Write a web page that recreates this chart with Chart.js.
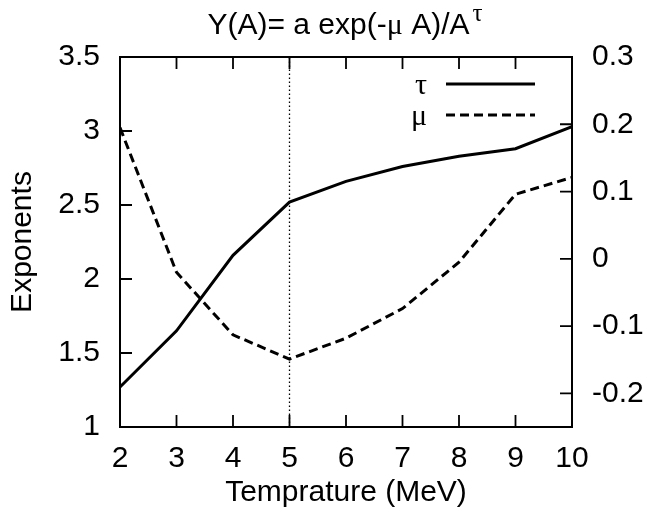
<!DOCTYPE html>
<html><head><meta charset="utf-8">
<script src="https://cdn.jsdelivr.net/npm/chart.js@4/dist/chart.umd.min.js"></script>
<style>html,body{margin:0;padding:0;background:#fff}#wrap{width:661px;height:508px}</style>
</head><body><div id="wrap"><canvas id="c" width="661" height="508"></canvas></div>
<script>
// ---- data ----
const temperatures = [2, 3, 4, 5, 6, 7, 8, 9, 10];
const tauValues = [1.27, 1.65, 2.16, 2.52, 2.66, 2.76, 2.83, 2.88, 3.03];
const muValues = [0.195, -0.02, -0.113, -0.149, -0.118, -0.074, -0.005, 0.096, 0.121];
const markerTemperature = 5;
const xTicks = [2, 3, 4, 5, 6, 7, 8, 9, 10];
const yTicks = [1, 1.5, 2, 2.5, 3, 3.5];
const y2Ticks = [-0.2, -0.1, 0, 0.1, 0.2, 0.3];
const y2Range = [-0.25, 0.3];
const seriesLabels = ['τ', 'μ'];
const titleParts = ['Y(A)= a exp(-', 'μ', ' A)/A', 'τ'];
const xTitle = 'Temprature (MeV)';
const yTitle = 'Exponents';

const SANS = '"Liberation Sans", Arial, Helvetica, sans-serif';
const SERIF = '"Liberation Serif", "DejaVu Serif", serif';
const FS = 30;

const toPoints = (xs, ys) => xs.map((x, i) => ({x: x, y: ys[i]}));

const frameTicks = {
  id: 'frameTicks',
  afterDatasetsDraw(chart) {
    const {ctx, chartArea: a, scales} = chart;
    ctx.save();
    ctx.strokeStyle = '#000';
    ctx.lineWidth = 2;
    ctx.strokeRect(a.left, a.top, a.right - a.left, a.bottom - a.top);
    const L = 12;
    ctx.lineWidth = 1.8;
    ctx.beginPath();
    scales.x.ticks.forEach(t => {
      const px = scales.x.getPixelForValue(t.value);
      ctx.moveTo(px, a.bottom); ctx.lineTo(px, a.bottom - L);
      ctx.moveTo(px, a.top); ctx.lineTo(px, a.top + L);
    });
    scales.y.ticks.forEach(t => {
      const py = scales.y.getPixelForValue(t.value);
      ctx.moveTo(a.left, py); ctx.lineTo(a.left + L, py);
    });
    scales.y2.ticks.forEach(t => {
      const py = scales.y2.getPixelForValue(t.value);
      ctx.moveTo(a.right, py); ctx.lineTo(a.right - L, py);
    });
    ctx.stroke();
    ctx.restore();
  }
};

const keyAndTitle = {
  id: 'keyAndTitle',
  afterDraw(chart) {
    const {ctx, chartArea: a} = chart;
    ctx.save();
    ctx.fillStyle = '#000';
    ctx.strokeStyle = '#000';
    // legend (key)
    const rows = [a.top + 27, a.top + 58];
    chart.data.datasets.slice(0, 2).forEach((ds, i) => {
      const y = rows[i];
      ctx.font = FS + 'px ' + SERIF;
      ctx.textAlign = 'right';
      ctx.textBaseline = 'middle';
      ctx.fillText(ds.label, a.right - 145, y + 2);
      ctx.lineWidth = ds.borderWidth;
      ctx.setLineDash(ds.borderDash || []);
      ctx.beginPath();
      ctx.moveTo(a.right - 126, y); ctx.lineTo(a.right - 37, y);
      ctx.stroke();
    });
    ctx.setLineDash([]);
    // title with superscript
    const fonts = [FS + 'px ' + SANS, FS + 'px ' + SERIF, FS + 'px ' + SANS, '25px ' + SERIF];
    const widths = titleParts.map((t, i) => { ctx.font = fonts[i]; return ctx.measureText(t).width; });
    const total = widths.reduce((s, w) => s + w, 0) + 3;
    let x = (a.left + a.right) / 2 - total / 2 - 1;
    const base = 34;
    ctx.textAlign = 'left';
    ctx.textBaseline = 'alphabetic';
    titleParts.forEach((t, i) => {
      ctx.font = fonts[i];
      const dx = i === 3 ? 3 : 0;
      ctx.fillText(t, x + dx, i === 3 ? base - 13 : base);
      x += widths[i] + dx;
    });
    ctx.restore();
  }
};

const tickFont = {family: SANS, size: FS};

new Chart(document.getElementById('c'), {
  type: 'line',
  data: {
    datasets: [
      {label: seriesLabels[0], data: toPoints(temperatures, tauValues), yAxisID: 'y',
       borderColor: '#000', borderWidth: 3, pointRadius: 0, tension: 0, fill: false},
      {label: seriesLabels[1], data: toPoints(temperatures, muValues), yAxisID: 'y2',
       borderColor: '#000', borderWidth: 3, borderDash: [9, 5], pointRadius: 0, tension: 0, fill: false},
      {label: 'marker', data: [{x: markerTemperature, y: yTicks[0]}, {x: markerTemperature, y: yTicks[yTicks.length - 1]}],
       yAxisID: 'y', borderColor: '#000', borderWidth: 1.3, borderDash: [1.5, 2.5], pointRadius: 0, fill: false}
    ]
  },
  options: {
    responsive: false,
    animation: false,
    devicePixelRatio: 1,
    layout: {padding: {top: 57, left: 0, right: 0, bottom: 0}},
    plugins: {legend: {display: false}, title: {display: false}, tooltip: {enabled: false}},
    scales: {
      x: {
        type: 'linear', position: 'bottom', min: xTicks[0], max: xTicks[xTicks.length - 1],
        afterBuildTicks: s => { s.ticks = xTicks.map(v => ({value: v})); },
        afterFit: s => { s.height = 81; },
        grid: {display: false, drawTicks: false}, border: {display: false},
        ticks: {font: tickFont, color: '#000', padding: 14, maxRotation: 0, autoSkip: false, callback: v => String(v)},
        title: {display: true, text: xTitle, color: '#000', font: {family: SANS, size: FS, lineHeight: 1}, padding: 0}
      },
      y: {
        type: 'linear', position: 'left', min: yTicks[0], max: yTicks[yTicks.length - 1],
        afterBuildTicks: s => { s.ticks = yTicks.map(v => ({value: v})); },
        afterFit: s => { s.width = 120; },
        grid: {display: false, drawTicks: false}, border: {display: false},
        ticks: {font: tickFont, color: '#000', padding: 20, callback: v => String(v)},
        title: {display: true, text: yTitle, color: '#000', font: {family: SANS, size: FS, lineHeight: 1}, padding: {top: 8, bottom: 0}}
      },
      y2: {
        type: 'linear', position: 'right', min: y2Range[0], max: y2Range[1],
        afterBuildTicks: s => { s.ticks = y2Ticks.map(v => ({value: v})); },
        afterFit: s => { s.width = 89; },
        grid: {display: false, drawTicks: false}, border: {display: false},
        ticks: {font: tickFont, color: '#000', padding: 20, callback: v => String(v)}
      }
    }
  },
  plugins: [frameTicks, keyAndTitle]
});
</script>
</body></html>
